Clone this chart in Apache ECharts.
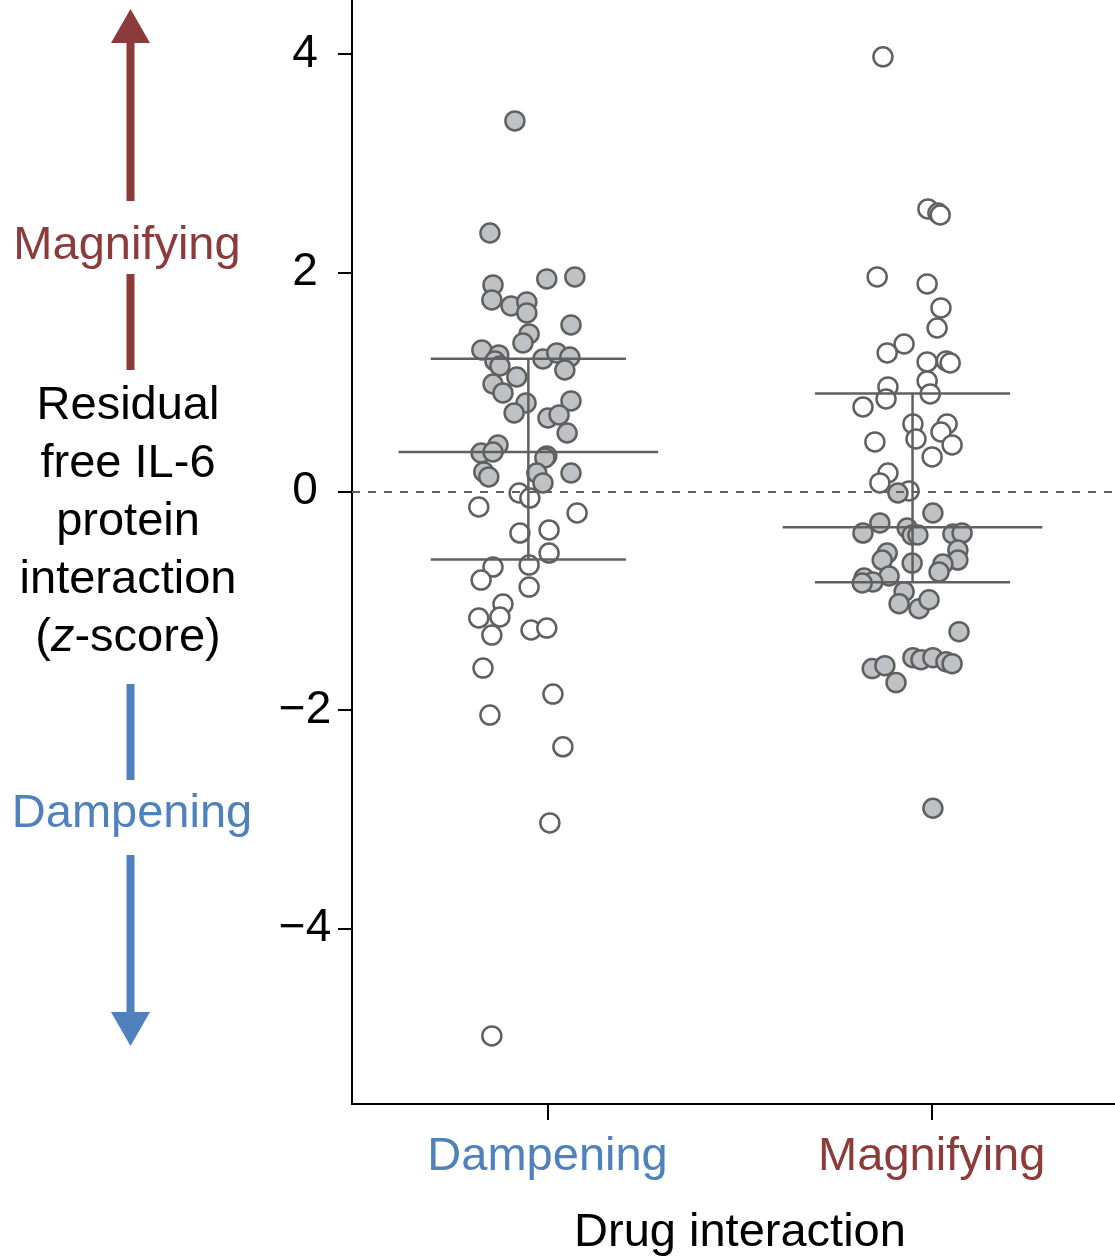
<!DOCTYPE html>
<html>
<head>
<meta charset="utf-8">
<script src="https://cdn.jsdelivr.net/npm/echarts@6/dist/echarts.min.js"></script>
<style>
html,body{margin:0;padding:0;background:#fff;}
#chart{width:1115px;height:1259px;}
</style>
</head>
<body>
<div id="chart"></div>
<script>
// ---- data ----
const categories = ['Dampening', 'Magnifying'];
const yTickValues = [-4, -2, 0, 2, 4];
const xTickValues = [0, 1];

// jitter offsets (in category units) and z-scores
const dampFilledX = [-0.085,-0.150,-0.142,-0.145,-0.095,-0.054,-0.054,-0.002,0.071,0.061,-0.048,-0.064,-0.171,-0.127,-0.137,-0.124,-0.012,0.024,0.058,0.045,-0.080,-0.142,-0.116,-0.056,-0.087,0.061,0.001,0.030,0.051,-0.129,-0.173,-0.142,-0.002,-0.007,-0.166,-0.153,-0.028,-0.012,0.061];
const dampFilledY = [3.387,2.362,1.887,1.750,1.695,1.732,1.631,1.942,1.960,1.521,1.439,1.357,1.293,1.247,1.192,1.146,1.210,1.265,1.228,1.109,1.045,0.981,0.899,0.808,0.716,0.826,0.670,0.698,0.533,0.424,0.350,0.359,0.323,0.305,0.177,0.131,0.167,0.076,0.167];

const dampOpenX = [-0.074,-0.046,-0.179,0.077,-0.072,0.004,0.004,-0.142,-0.048,-0.173,-0.048,-0.116,-0.179,-0.124,-0.145,-0.043,-0.002,-0.168,0.014,-0.150,0.040,0.006,-0.145];
const dampOpenY = [-0.016,-0.062,-0.144,-0.199,-0.382,-0.354,-0.565,-0.693,-0.675,-0.812,-0.876,-1.032,-1.159,-1.150,-1.315,-1.269,-1.251,-1.617,-1.855,-2.047,-2.337,-3.033,-4.981];

const magOpenX = [-0.127,-0.010,0.016,0.022,-0.142,-0.012,0.024,0.014,-0.072,-0.116,-0.012,0.038,0.048,-0.012,-0.114,-0.004,-0.119,-0.179,-0.049,0.040,-0.041,0.024,-0.148,0.053,0.001,-0.114,-0.135,-0.059];
const magOpenY = [3.973,2.582,2.545,2.527,1.960,1.896,1.677,1.493,1.347,1.265,1.183,1.192,1.174,1.009,0.954,0.890,0.844,0.771,0.616,0.616,0.478,0.542,0.451,0.424,0.314,0.167,0.076,0.003];

const magFilledX = [-0.088,0.003,-0.135,-0.179,-0.064,-0.051,-0.036,0.055,0.079,0.068,0.068,-0.116,-0.129,0.029,0.019,-0.051,-0.111,-0.176,-0.153,-0.181,-0.072,-0.085,-0.033,-0.007,0.071,-0.049,-0.028,0.003,0.037,0.053,-0.155,-0.122,-0.093,0.003];
const magFilledY = [-0.016,-0.199,-0.290,-0.382,-0.336,-0.400,-0.400,-0.391,-0.382,-0.537,-0.629,-0.565,-0.629,-0.665,-0.738,-0.657,-0.775,-0.794,-0.830,-0.839,-0.918,-1.028,-1.074,-0.992,-1.284,-1.522,-1.540,-1.522,-1.559,-1.577,-1.622,-1.595,-1.750,-2.899];

// group summaries: mean and mean ± SD
const groupMean = [0.359, -0.329];
const groupSdLow = [-0.625, -0.833];
const groupSdHigh = [1.213, 0.893];

// ---- styling ----
const FONT = "'Liberation Sans', Arial, Helvetica, sans-serif";
const RED = '#8d3a3a';
const BLUE = '#4f81bd';
const LINE = '#606060';
const catColors = [BLUE, RED];

function pts(group, xs, ys) {
  return xs.map((x, i) => [group + x, ys[i]]);
}

const summaryData = categories.map((c, i) => [i, groupMean[i], groupSdLow[i], groupSdHigh[i]]);

const BAR_SHIFT = -0.05, MEAN_HALF = 0.338, SD_HALF = 0.254;

function renderSummary(params, api) {
  const c = api.value(0) + BAR_SHIFT;
  const m = api.value(1), lo = api.value(2), hi = api.value(3);
  const st = { stroke: LINE, lineWidth: 2.5 };
  const seg = (a, b) => ({ type: 'line', shape: { x1: a[0], y1: a[1], x2: b[0], y2: b[1] }, style: st });
  return {
    type: 'group',
    children: [
      seg(api.coord([c - MEAN_HALF, m]), api.coord([c + MEAN_HALF, m])),
      seg(api.coord([c - SD_HALF, hi]), api.coord([c + SD_HALF, hi])),
      seg(api.coord([c - SD_HALF, lo]), api.coord([c + SD_HALF, lo])),
      seg(api.coord([c, hi]), api.coord([c, lo]))
    ]
  };
}

const scatterBase = {
  type: 'scatter',
  symbol: 'circle',
  symbolSize: 19,
  z: 2,
  emphasis: { disabled: true },
  silent: true
};

const chart = echarts.init(document.getElementById('chart'), null, { renderer: 'canvas' });

const option = {
  animation: false,
  backgroundColor: '#ffffff',
  grid: { left: 352, right: 0, top: 0, bottom: 155, containLabel: false, outerBoundsMode: 'none' },
  xAxis: {
    type: 'value',
    min: -0.509,
    max: 1.477,
    splitLine: { show: false },
    axisLine: { show: true, onZero: false, lineStyle: { color: '#000', width: 2 } },
    axisTick: { show: true, customValues: xTickValues, length: 16, lineStyle: { color: '#000', width: 2 } },
    axisLabel: {
      customValues: xTickValues,
      margin: 30,
      fontFamily: FONT,
      fontSize: 47,
      formatter: v => '{c' + v + '|' + categories[v] + '}',
      rich: {
        c0: { color: catColors[0], fontSize: 47, fontFamily: FONT },
        c1: { color: catColors[1], fontSize: 47, fontFamily: FONT }
      }
    }
  },
  yAxis: {
    type: 'value',
    min: -5.604,
    max: 4.493,
    splitLine: { show: false },
    axisLine: { show: true, onZero: false, lineStyle: { color: '#000', width: 2 } },
    axisTick: { show: true, customValues: yTickValues, length: 14, lineStyle: { color: '#000', width: 2 } },
    axisLabel: {
      customValues: yTickValues,
      margin: 47,
      align: 'center',
      color: '#000',
      fontFamily: FONT,
      fontSize: 46,
      formatter: v => (v < 0 ? '\u2212' + Math.abs(v) : String(v))
    }
  },
  series: [
    Object.assign({}, scatterBase, {
      name: 'Dampening filled',
      data: pts(0, dampFilledX, dampFilledY),
      itemStyle: { color: '#c0c1c4', borderColor: LINE, borderWidth: 2.5, opacity: 1 }
    }),
    Object.assign({}, scatterBase, {
      name: 'Dampening open',
      data: pts(0, dampOpenX, dampOpenY),
      itemStyle: { color: '#ffffff', borderColor: LINE, borderWidth: 2.5, opacity: 1 }
    }),
    Object.assign({}, scatterBase, {
      name: 'Magnifying open',
      data: pts(1, magOpenX, magOpenY),
      itemStyle: { color: '#ffffff', borderColor: LINE, borderWidth: 2.5, opacity: 1 }
    }),
    Object.assign({}, scatterBase, {
      name: 'Magnifying filled',
      data: pts(1, magFilledX, magFilledY),
      itemStyle: { color: '#c0c1c4', borderColor: LINE, borderWidth: 2.5, opacity: 1 }
    }),
    {
      type: 'custom',
      name: 'summary',
      z: 5,
      silent: true,
      renderItem: renderSummary,
      data: summaryData,
      markLine: {
        silent: true,
        symbol: ['none', 'none'],
        label: { show: false },
        lineStyle: { color: LINE, width: 2, type: [8, 8] },
        data: [{ yAxis: 0 }]
      }
    }
  ],
  graphic: [
    // upper (magnifying) arrow
    { type: 'rect', shape: { x: 126.5, y: 40, width: 8, height: 161 }, style: { fill: RED } },
    { type: 'polygon', shape: { points: [[111, 43], [150, 43], [130.5, 9]] }, style: { fill: RED } },
    { type: 'rect', shape: { x: 126.5, y: 274, width: 8, height: 96 }, style: { fill: RED } },
    { type: 'text', x: 127, y: 246, style: { text: 'Magnifying', fill: RED, font: '47px ' + FONT, align: 'center', verticalAlign: 'middle' } },
    // y-axis title
    {
      type: 'text', x: 128, y: 522,
      style: {
        text: 'Residual\nfree IL-6\nprotein\ninteraction\n({i|z}-score)',
        fill: '#000', font: '47px ' + FONT, align: 'center', verticalAlign: 'middle', lineHeight: 58,
        rich: { i: { fontStyle: 'italic', fontSize: 47, fontFamily: FONT, fill: '#000', lineHeight: 58 } }
      }
    },
    // lower (dampening) arrow
    { type: 'rect', shape: { x: 126.5, y: 684, width: 8, height: 96 }, style: { fill: BLUE } },
    { type: 'text', x: 132, y: 814, style: { text: 'Dampening', fill: BLUE, font: '47px ' + FONT, align: 'center', verticalAlign: 'middle' } },
    { type: 'rect', shape: { x: 126.5, y: 855, width: 8, height: 160 }, style: { fill: BLUE } },
    { type: 'polygon', shape: { points: [[111, 1012], [150, 1012], [130.5, 1046]] }, style: { fill: BLUE } },
    // x-axis title
    { type: 'text', x: 740, y: 1233, style: { text: 'Drug interaction', fill: '#000', font: '47px ' + FONT, align: 'center', verticalAlign: 'middle' } }
  ]
};

chart.setOption(option);
</script>
</body>
</html>
